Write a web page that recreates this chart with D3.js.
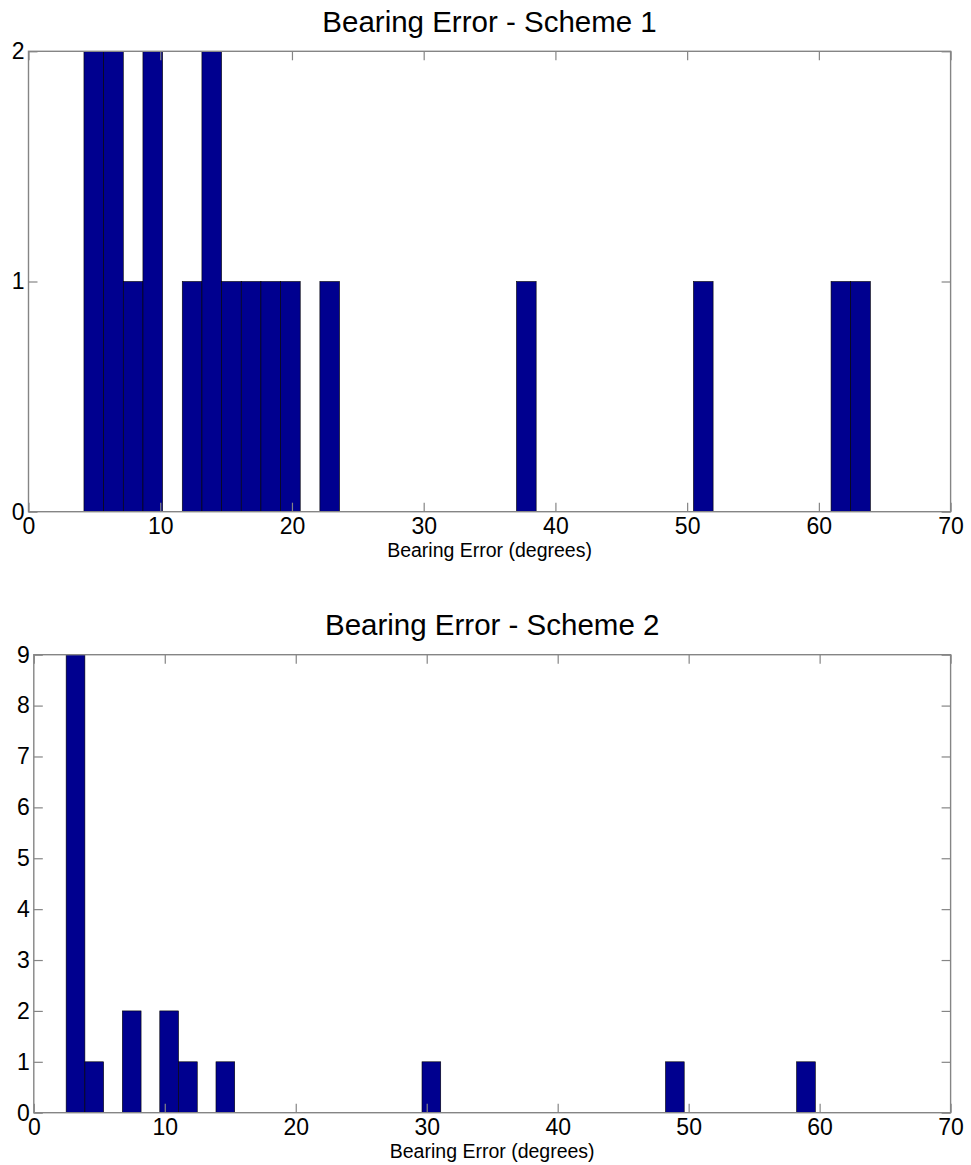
<!DOCTYPE html>
<html><head><meta charset="utf-8">
<script src="https://cdn.jsdelivr.net/npm/d3@7"></script>
<style>body{margin:0;background:#fff}</style>
</head><body><svg id="c" width="971" height="1165"></svg>
<script>
const xTicks = [0, 10, 20, 30, 40, 50, 60, 70];
const titles = ["Bearing Error - Scheme 1", "Bearing Error - Scheme 2"];
const xLabel = "Bearing Error (degrees)";

// Scheme 1 histogram: 40 bins
const s1BinStart = 4.21, s1BinWidth = 1.4925;
const s1Counts = [2,2,1,2,0,1,2,1,1,1,1,0,1,0,0,0,0,0,0,0,0,0,1,0,0,0,0,0,0,0,0,1,0,0,0,0,0,0,1,1];
const s1YTicks = [0, 1, 2];

// Scheme 2 histogram: 40 bins
const s2BinStart = 2.47, s2BinWidth = 1.430;
const s2Counts = [9,1,0,2,0,2,1,0,1,0,0,0,0,0,0,0,0,0,0,1,0,0,0,0,0,0,0,0,0,0,0,0,1,0,0,0,0,0,0,1];
const s2YTicks = [0, 1, 2, 3, 4, 5, 6, 7, 8, 9];

const panels = [
  {title: titles[0], start: s1BinStart, w: s1BinWidth, counts: s1Counts, yTicks: s1YTicks, box: {l: 28.5, r: 950.6, t: 51.3, b: 511.7}},
  {title: titles[1], start: s2BinStart, w: s2BinWidth, counts: s2Counts, yTicks: s2YTicks, box: {l: 33.8, r: 950.6, t: 654.7, b: 1112.7}}
];

const svg = d3.select("#c");
const FONT = "'Liberation Sans', Arial, Helvetica, sans-serif";
const axisColor = "#858585";

panels.forEach(p => {
  const {l, r, t, b} = p.box;
  const x = d3.scaleLinear().domain([0, 70]).range([l, r]);
  const y = d3.scaleLinear().domain([0, d3.max(p.yTicks)]).range([b, t]);
  const g = svg.append("g");

  const bins = p.counts.map((c, i) => ({x0: p.start + i * p.w, x1: p.start + (i + 1) * p.w, c}))
    .filter(d => d.c > 0);

  g.selectAll("rect.bar").data(bins).enter().append("rect")
    .attr("class", "bar")
    .attr("x", d => x(d.x0))
    .attr("width", d => x(d.x1) - x(d.x0))
    .attr("y", d => y(d.c))
    .attr("height", d => y(0) - y(d.c))
    .attr("fill", "#00008F")
    .attr("stroke", "#000")
    .attr("stroke-width", 0.6);

  const styleAxis = sel => {
    sel.select(".domain").remove();
    sel.selectAll(".tick line").attr("stroke", axisColor).attr("stroke-width", 1.2);
    sel.selectAll(".tick text").attr("fill", "#000").style("font-family", FONT).style("font-size", "23px");
  };

  g.append("g").attr("transform", `translate(0,${b})`)
    .call(d3.axisBottom(x).tickValues(xTicks).tickSizeInner(-9).tickSizeOuter(0).tickPadding(6).tickFormat(d3.format("d")))
    .call(styleAxis);
  g.append("g").attr("transform", `translate(0,${t})`)
    .call(d3.axisTop(x).tickValues(xTicks).tickSizeInner(-9).tickSizeOuter(0).tickFormat(""))
    .call(styleAxis);
  g.append("g").attr("transform", `translate(${l},0)`)
    .call(d3.axisLeft(y).tickValues(p.yTicks).tickSizeInner(-9).tickSizeOuter(0).tickPadding(4).tickFormat(d3.format("d")))
    .call(styleAxis);
  g.append("g").attr("transform", `translate(${r},0)`)
    .call(d3.axisRight(y).tickValues(p.yTicks).tickSizeInner(-9).tickSizeOuter(0).tickFormat(""))
    .call(styleAxis);

  g.append("rect")
    .attr("x", l).attr("y", t).attr("width", r - l).attr("height", b - t)
    .attr("fill", "none").attr("stroke", axisColor).attr("stroke-width", 1.4);

  g.append("text")
    .attr("x", (l + r) / 2).attr("y", t - 19.6)
    .attr("text-anchor", "middle")
    .style("font-family", FONT).style("font-size", "29.5px")
    .text(p.title);

  g.append("text")
    .attr("x", (l + r) / 2).attr("y", b + 45.5)
    .attr("text-anchor", "middle")
    .style("font-family", FONT).style("font-size", "19.5px")
    .text(xLabel);
});
</script>
</body></html>
